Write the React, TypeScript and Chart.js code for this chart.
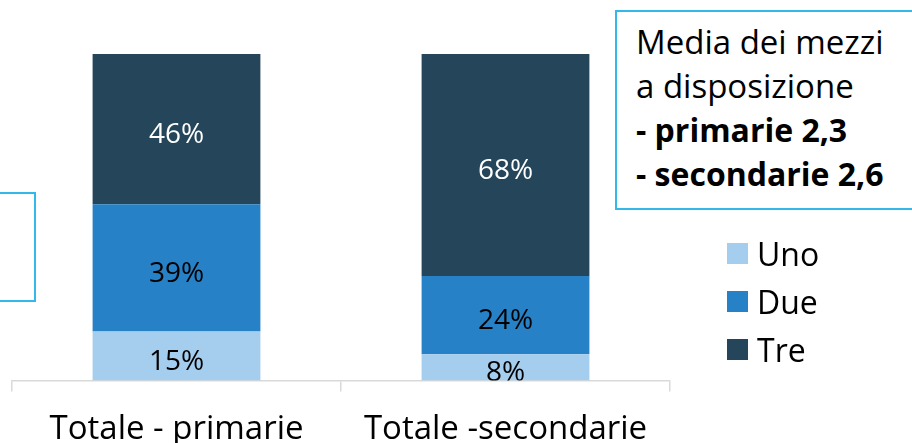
import React, { useEffect, useRef } from "react";
import { Chart, registerables } from "chart.js";

Chart.register(...registerables);

const categories = ["Totale - primarie", "Totale -secondarie"];
const seriesNames = ["Uno", "Due", "Tre"];
const unoValues = [15, 8];
const dueValues = [39, 24];
const treValues = [46, 68];
const seriesColors = ["#a4cdee", "#2681c7", "#24455a"];
const labelColors = ["#000000", "#000000", "#ffffff"];
const noteLines = ["Media dei mezzi", "a disposizione", "- primarie 2,3", "- secondarie 2,6"];
const noteBold = [false, false, true, true];

const FONT = "'Open Sans', Lato, sans-serif";
const BOX_COLOR = "#33b8ea";
const CANVAS_H = 467;

const valueLabels = {
  id: "valueLabels",
  afterDatasetsDraw(chart: any) {
    const ctx = chart.ctx;
    const area = chart.chartArea;
    ctx.save();
    ctx.beginPath();
    ctx.rect(area.left, area.top, area.right - area.left, area.bottom - area.top);
    ctx.clip();
    chart.data.datasets.forEach((ds: any, i: number) => {
      const meta = chart.getDatasetMeta(i);
      meta.data.forEach((bar: any, j: number) => {
        const p = bar.getProps(["x", "y", "base"], true);
        ctx.font = `28px ${FONT}`;
        ctx.fillStyle = labelColors[i];
        ctx.textAlign = "center";
        ctx.textBaseline = "middle";
        ctx.fillText(ds.data[j] + "%", p.x, (p.y + p.base) / 2 + 6);
      });
    });
    ctx.restore();
  },
};

export default function App() {
  const canvasRef = useRef<HTMLCanvasElement | null>(null);

  useEffect(() => {
    document.body.style.margin = "0";
    const canvas = canvasRef.current;
    if (!canvas) return;
    const seriesValues = [unoValues, dueValues, treValues];
    const chart = new Chart(canvas, {
      type: "bar",
      data: {
        labels: categories,
        datasets: seriesNames.map((name, i) => ({
          label: name,
          data: seriesValues[i],
          backgroundColor: seriesColors[i],
          borderWidth: 0,
          barPercentage: 0.51,
          categoryPercentage: 1,
        })),
      },
      options: {
        animation: false,
        responsive: false,
        layout: { padding: { left: 12, right: 242, top: 54, bottom: 0 } },
        plugins: {
          legend: { display: false },
          tooltip: { enabled: false },
        },
        scales: {
          x: {
            stacked: true,
            grid: {
              offset: true,
              drawOnChartArea: false,
              drawTicks: true,
              tickLength: 11,
              color: "#d9d9d9",
              lineWidth: 1.5,
            },
            border: { display: true, color: "#d9d9d9", width: 1.5 },
            ticks: {
              color: "#000000",
              font: { family: FONT, size: 33 },
              padding: 18,
              maxRotation: 0,
              autoSkip: false,
            },
          },
          y: {
            stacked: true,
            display: false,
            min: 0,
            max: 100,
          },
        },
      },
      plugins: [valueLabels],
    });
    return () => chart.destroy();
  }, []);

  return (
    <div
      style={{
        position: "fixed",
        left: 0,
        top: 0,
        width: 912,
        height: 443,
        overflow: "hidden",
        background: "#ffffff",
        fontFamily: FONT,
      }}
    >
      <canvas ref={canvasRef} width={912} height={CANVAS_H} style={{ position: "absolute", left: 0, top: 0 }} />
      <div
        style={{
          position: "absolute",
          left: -10,
          top: 192,
          width: 46,
          height: 110,
          border: `2px solid ${BOX_COLOR}`,
          boxSizing: "border-box",
        }}
      />
      <div
        style={{
          position: "absolute",
          left: 615,
          top: 10,
          width: 320,
          height: 200,
          border: `2px solid ${BOX_COLOR}`,
          boxSizing: "border-box",
          paddingTop: 8,
          paddingLeft: 19,
          fontSize: 32,
          lineHeight: "44px",
          color: "#000",
          whiteSpace: "nowrap",
          background: "#fff",
        }}
      >
        {noteLines.map((t, i) => (
          <div key={i} style={{ fontWeight: noteBold[i] ? 700 : 400, fontSize: noteBold[i] ? 32 : 33 }}>
            {t}
          </div>
        ))}
      </div>
      {seriesNames.map((name, i) => (
        <div
          key={name}
          style={{ position: "absolute", left: 727, top: 242 + i * 48, height: 22, display: "flex", alignItems: "flex-end" }}
        >
          <div style={{ width: 21, height: 21, background: seriesColors[i] }} />
          <div
            style={{
              position: "absolute",
              left: 30,
              bottom: -10,
              fontSize: 32,
              lineHeight: "40px",
              color: "#000",
              whiteSpace: "nowrap",
            }}
          >
            {name}
          </div>
        </div>
      ))}
    </div>
  );
}
